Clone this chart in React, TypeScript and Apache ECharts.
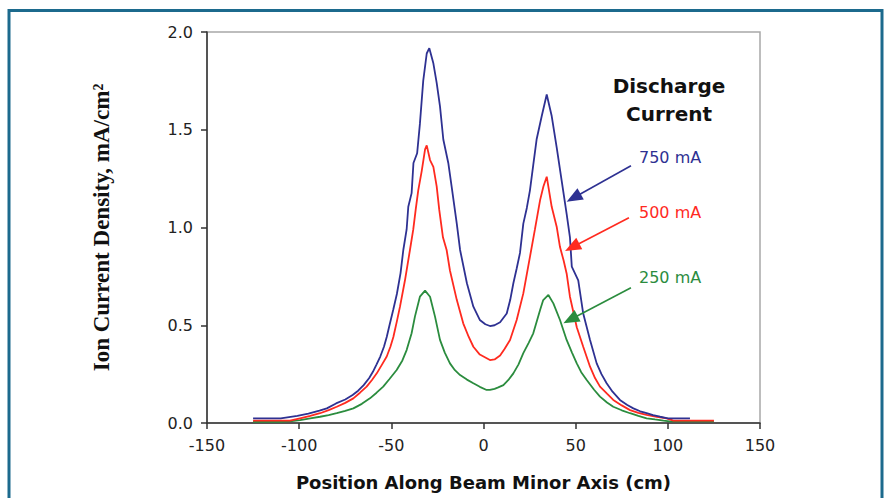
import React, { useEffect, useRef } from "react";
import * as echarts from "echarts";

// Position along beam minor axis (cm) and ion current density (mA/cm²)
const x750 = [-125, -110, -101, -95, -89, -85, -80, -75, -71, -68, -65, -62, -60, -58, -56, -54, -52.5, -51, -49, -47, -45, -43.5, -41.7, -40.8, -39, -38, -36, -34.5, -32.7, -30.8, -29.4, -27.2, -25.4, -23.6, -21.8, -19.1, -17.3, -14.5, -12.7, -9, -5.5, -2, 1, 3.5, 6, 9, 12.6, 14.5, 16.2, 18, 19.8, 21.6, 23.5, 25.2, 27, 28.8, 31.6, 34.3, 37, 39.7, 42.4, 45.1, 46.9, 47.9, 51.4, 54.1, 57.8, 61.4, 64, 66.8, 70, 74, 78, 81.3, 85, 88.5, 92, 95.8, 100, 112];
const y750 = [0.024, 0.024, 0.036, 0.048, 0.063, 0.075, 0.1, 0.12, 0.143, 0.165, 0.194, 0.23, 0.262, 0.3, 0.34, 0.39, 0.44, 0.5, 0.578, 0.66, 0.767, 0.885, 0.99, 1.106, 1.176, 1.33, 1.38, 1.53, 1.75, 1.89, 1.917, 1.84, 1.74, 1.62, 1.45, 1.33, 1.21, 1.02, 0.885, 0.715, 0.595, 0.527, 0.505, 0.496, 0.5, 0.515, 0.56, 0.63, 0.715, 0.79, 0.87, 1.02, 1.1, 1.19, 1.32, 1.45, 1.57, 1.68, 1.57, 1.41, 1.24, 1.07, 0.95, 0.8, 0.73, 0.56, 0.425, 0.305, 0.25, 0.203, 0.16, 0.118, 0.092, 0.075, 0.06, 0.05, 0.04, 0.032, 0.024, 0.024];

const x500 = [-125, -105, -99.5, -94, -88.7, -84, -79.6, -75, -70.6, -67, -63.4, -60.5, -57.9, -55, -52.5, -50.5, -48.9, -47, -45.3, -42.6, -39.9, -38.1, -36.8, -35.4, -33.5, -31.7, -30.8, -29, -27.2, -25.4, -24, -22, -20, -18.2, -14.5, -11, -8, -5.5, -2, 0, 3.5, 6, 9, 11.5, 14.4, 18, 21.6, 25.2, 27.9, 30.7, 32.5, 34.3, 37, 39.7, 41.5, 43.5, 45.1, 46.9, 50.6, 54.1, 57.8, 60.5, 63.2, 67, 70.4, 75, 79.5, 84, 88.5, 94, 99.4, 103, 125];
const y500 = [0.012, 0.012, 0.024, 0.036, 0.05, 0.066, 0.083, 0.103, 0.126, 0.155, 0.186, 0.22, 0.254, 0.3, 0.34, 0.39, 0.44, 0.52, 0.595, 0.73, 0.885, 0.99, 1.09, 1.19, 1.29, 1.4, 1.42, 1.345, 1.31, 1.21, 1.09, 0.95, 0.885, 0.78, 0.63, 0.51, 0.44, 0.39, 0.35, 0.34, 0.322, 0.325, 0.345, 0.38, 0.425, 0.527, 0.663, 0.85, 0.99, 1.14, 1.21, 1.26, 1.106, 1.004, 0.9, 0.83, 0.765, 0.646, 0.49, 0.39, 0.288, 0.23, 0.186, 0.15, 0.118, 0.09, 0.066, 0.052, 0.041, 0.032, 0.024, 0.012, 0.012];

const x250 = [-125, -110, -104, -99.5, -94, -88.7, -84, -79.6, -75, -70.6, -66, -61.6, -58, -54.4, -51, -47.1, -44, -41.7, -39, -37.2, -34.5, -31.7, -29, -26.3, -23.6, -21, -18.2, -15.5, -12.7, -9, -5.5, -2, 1.7, 3.5, 6, 8, 10.8, 13.5, 16.2, 19, 21.6, 24.5, 27, 30.7, 32.4, 35.2, 37.9, 41.5, 45.1, 48, 50.6, 53, 56, 60, 63.2, 67, 70.4, 75, 79.5, 84, 88.5, 93, 97.6, 101, 125];
const y250 = [0.006, 0.006, 0.01, 0.015, 0.024, 0.032, 0.04, 0.05, 0.062, 0.075, 0.098, 0.126, 0.155, 0.186, 0.225, 0.271, 0.32, 0.373, 0.459, 0.544, 0.646, 0.677, 0.646, 0.544, 0.425, 0.36, 0.305, 0.27, 0.245, 0.222, 0.203, 0.185, 0.169, 0.169, 0.175, 0.182, 0.194, 0.22, 0.254, 0.3, 0.357, 0.41, 0.459, 0.578, 0.629, 0.655, 0.612, 0.527, 0.425, 0.36, 0.305, 0.26, 0.22, 0.17, 0.135, 0.105, 0.083, 0.065, 0.05, 0.036, 0.024, 0.018, 0.012, 0.008, 0.008];

const seriesNames = ["750 mA", "500 mA", "250 mA"];
const seriesColors = ["#2e3192", "#ff2a1f", "#2b8c3e"];
// arrow start (near label) and arrow end (at the curve), in data units
const arrowStarts = [[80, 1.316], [78.9, 1.05], [80, 0.692]];
const arrowEnds = [[48.9, 1.152], [48.1, 0.899], [47.2, 0.529]];

const xTicks = { min: -150, max: 150, interval: 50 };
const yTicks = { min: 0, max: 2, interval: 0.5 };

const zip = (xs: number[], ys: number[]) => xs.map((x, i) => [x, ys[i]]);

export default function App() {
  const ref = useRef<HTMLDivElement>(null);
  useEffect(() => {
    if (!ref.current) return;
    const chart = echarts.init(ref.current, null, { renderer: "svg" });
    const datasets = [zip(x750, y750), zip(x500, y500), zip(x250, y250)];
    const sans = "DejaVu Sans";
    chart.setOption({
      animation: false,
      backgroundColor: "#ffffff",
      grid: {
        left: 207,
        top: 32,
        right: 127,
        bottom: 75,
        show: true,
        borderColor: "#a8a8a8",
        borderWidth: 1.5,
      },
      xAxis: {
        type: "value",
        min: xTicks.min,
        max: xTicks.max,
        interval: xTicks.interval,
        name: "Position Along Beam Minor Axis (cm)",
        nameLocation: "middle",
        nameGap: 50,
        nameTextStyle: { fontFamily: sans, fontWeight: "bold", fontSize: 18, color: "#111" },
        axisLine: { onZero: false, lineStyle: { color: "#333", width: 1.5 } },
        axisTick: { show: true, inside: false, length: 6, lineStyle: { color: "#333", width: 1.5 } },
        axisLabel: { fontFamily: sans, fontSize: 16, color: "#222", margin: 14 },
        splitLine: { show: false },
      },
      yAxis: {
        type: "value",
        min: yTicks.min,
        max: yTicks.max,
        interval: yTicks.interval,
        name: "Ion Current Density, mA/cm\u00b2",
        nameLocation: "middle",
        nameGap: 94,
        nameRotate: 90,
        nameTextStyle: { fontFamily: "Liberation Serif", fontWeight: "bold", fontSize: 23, color: "#111" },
        axisLine: { show: true, onZero: false, lineStyle: { color: "#333", width: 1.5 } },
        axisTick: { show: true, inside: false, length: 6, lineStyle: { color: "#333", width: 1.5 } },
        axisLabel: {
          fontFamily: sans,
          fontSize: 16,
          color: "#222",
          margin: 14,
          formatter: (v: number) => v.toFixed(1),
        },
        splitLine: { show: false },
      },
      series: datasets.map((d, i) => ({
        type: "line",
        name: seriesNames[i],
        data: d,
        showSymbol: false,
        symbol: "none",
        lineStyle: { color: seriesColors[i], width: 1.8 },
        itemStyle: { color: seriesColors[i] },
        z: 3 - i,
        markLine: {
          silent: true,
          animation: false,
          symbol: ["none", "triangle"],
          symbolSize: [13, 16],
          label: { show: false },
          lineStyle: { color: seriesColors[i], width: 1.6, type: "solid" },
          data: [[{ coord: arrowStarts[i] }, { coord: arrowEnds[i] }]],
        },
      })),
      graphic: [
        {
          type: "rect",
          shape: { x: 9, y: 10.5, width: 873, height: 520 },
          style: { fill: "none", stroke: "#1c6a8d", lineWidth: 3 },
          silent: true,
        },
        {
          type: "text",
          x: 669,
          y: 86,
          style: { text: "Discharge", fontFamily: sans, fontWeight: "bold", fontSize: 20, fill: "#111", align: "center", verticalAlign: "middle" },
        },
        {
          type: "text",
          x: 669,
          y: 114,
          style: { text: "Current", fontFamily: sans, fontWeight: "bold", fontSize: 20, fill: "#111", align: "center", verticalAlign: "middle" },
        },
        ...seriesNames.map((n, i) => ({
          type: "text",
          x: 639,
          y: [157, 212, 277][i],
          style: { text: n, fontFamily: sans, fontSize: 16, fill: seriesColors[i], align: "left", verticalAlign: "middle" },
        })),
      ],
    });
    return () => chart.dispose();
  }, []);
  return (
    <div
      ref={ref}
      style={{ position: "fixed", left: 0, top: 0, width: 887, height: 498, background: "#fff" }}
    />
  );
}
